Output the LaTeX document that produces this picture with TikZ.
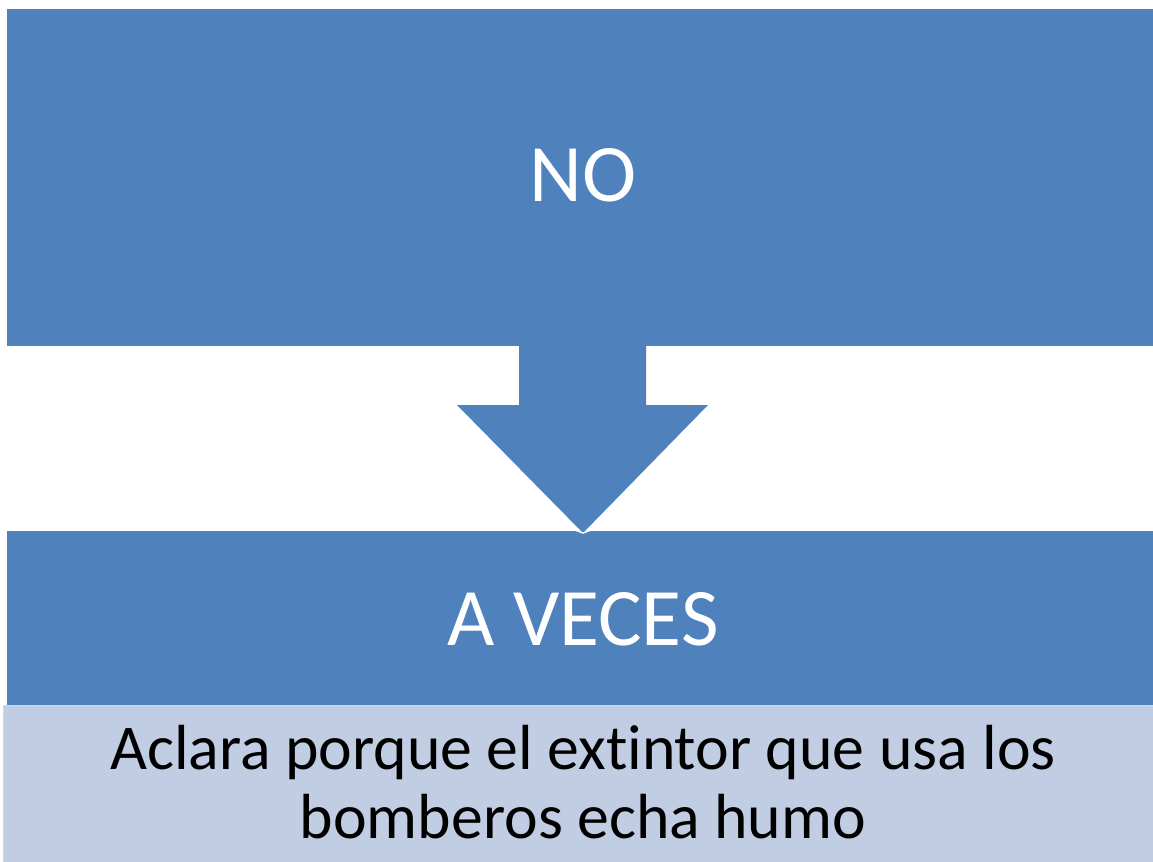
\documentclass[tikz,border=0pt]{standalone}
\usepackage{fontspec}
\setmainfont{Carlito}[Ligatures={NoCommon}]
\usetikzlibrary{calc}
\definecolor{boxblue}{RGB}{79,129,189}
\definecolor{lightblue}{RGB}{193,205,226}
\definecolor{lightedge}{RGB}{208,217,234}
\tikzset{
  darkbox/.style={fill=boxblue, draw=none, inner sep=0pt, outer sep=0pt},
  lightbox/.style={fill=lightblue, draw=lightedge, line width=1.2bp, inner sep=0pt, outer sep=0pt},
  bigtext/.style={text=white, font=\fontsize{82}{90}\selectfont, anchor=base, inner sep=0pt},
  smalltext/.style={text=black, font=\fontsize{64}{69}\selectfont, anchor=base, inner sep=0pt},
}
\begin{document}
\begin{tikzpicture}[x=1bp,y=-1bp]
\useasboundingbox (0,0) rectangle (1153,862);
\fill[white] (0,0) rectangle (1153,862);
% boxes
\node[darkbox, minimum width=1147bp, minimum height=337bp, anchor=north west] (top) at (7,9) {};
\node[darkbox, minimum width=1147bp, minimum height=174bp, anchor=north west] (mid) at (7,531) {};
\node[lightbox, minimum width=1150bp, minimum height=158bp, anchor=north west] (low) at (3.6,705.6) {};
% block arrow
\coordinate (tip) at (583,533);
\fill[boxblue] (519,346) -- (646,346) -- (646,405) -- (708,405) -- (tip) -- (457,405) -- (519,405) -- cycle;
\draw[white, line width=1.5bp] ($(tip)+(-8,-3)$) -- (tip) -- ($(tip)+(8,-3)$);
% texts
\node[bigtext] (t1) at (583,201) {NO};
\node[bigtext] (t2) at (583,645) {A VECES};
\node[smalltext] (t3) at (583,769) {Aclara porque el extintor que usa los};
\node[smalltext] (t4) at (583,838) {bomberos echa humo};
\end{tikzpicture}
\end{document}
